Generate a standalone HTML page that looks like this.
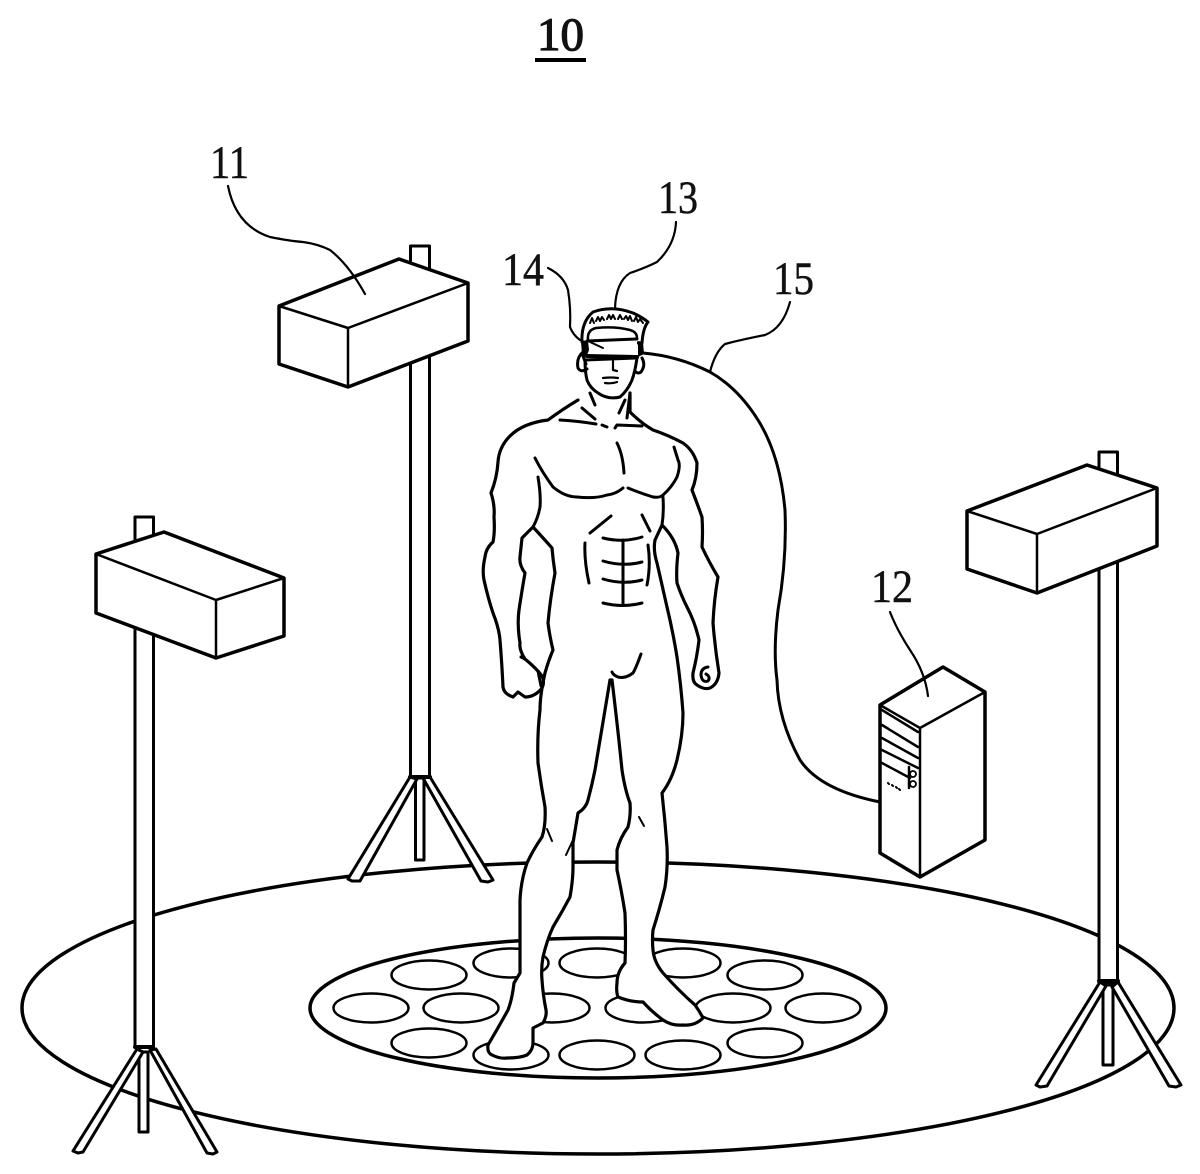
<!DOCTYPE html>
<html>
<head>
<meta charset="utf-8">
<style>
html,body{margin:0;padding:0;background:#fff;}
svg{display:block;}
text{font-family:"Liberation Serif",serif;fill:#111;font-size:47px;stroke:#111;stroke-width:.5px;}
.s{fill:none;stroke:#000;stroke-linecap:round;stroke-linejoin:round;}
.w{fill:#fff;stroke:#000;stroke-linecap:round;stroke-linejoin:round;}
</style>
</head>
<body>
<svg xmlns="http://www.w3.org/2000/svg" width="1200" height="1174" viewBox="0 0 1200 1174">
<rect width="1200" height="1174" fill="#fff"/>

<!-- labels -->
<text x="537" y="50" textLength="47" lengthAdjust="spacingAndGlyphs" style="stroke-width:1.200px">10</text>
<rect x="535" y="58" width="51" height="4" fill="#000"/>
<text x="210" y="178" textLength="39" lengthAdjust="spacingAndGlyphs">11</text>
<text x="658" y="213" textLength="40" lengthAdjust="spacingAndGlyphs">13</text>
<text x="502" y="285" textLength="42" lengthAdjust="spacingAndGlyphs">14</text>
<text x="773" y="294" textLength="41" lengthAdjust="spacingAndGlyphs">15</text>
<text x="871" y="602" textLength="42" lengthAdjust="spacingAndGlyphs">12</text>

<!-- floor -->
<ellipse class="s" cx="598" cy="1008" rx="576" ry="146" stroke-width="3.5"/>
<ellipse class="s" cx="598" cy="1008" rx="288" ry="70" stroke-width="3.5"/>
<g class="s" stroke-width="2.5">
<ellipse cx="511" cy="963" rx="37.5" ry="14.5"/>
<ellipse cx="597" cy="963" rx="37.5" ry="14.5"/>
<ellipse cx="683" cy="963" rx="37.5" ry="14.5"/>
<ellipse cx="429" cy="975" rx="37.5" ry="14.5"/>
<ellipse cx="765" cy="975" rx="37.5" ry="14.5"/>
<ellipse cx="371" cy="1008" rx="37.5" ry="14.5"/>
<ellipse cx="461" cy="1008" rx="37.5" ry="14.5"/>
<ellipse cx="552" cy="1008" rx="37.5" ry="14.5"/>
<ellipse cx="643" cy="1008" rx="37.5" ry="14.5"/>
<ellipse cx="733" cy="1008" rx="37.5" ry="14.5"/>
<ellipse cx="823" cy="1008" rx="37.5" ry="14.5"/>
<ellipse cx="429" cy="1043" rx="37.5" ry="14.5"/>
<ellipse cx="765" cy="1043" rx="37.5" ry="14.5"/>
<ellipse cx="511" cy="1055" rx="37.5" ry="14.5"/>
<ellipse cx="597" cy="1055" rx="37.5" ry="14.5"/>
<ellipse cx="683" cy="1055" rx="37.5" ry="14.5"/>
</g>

<!-- middle stand -->
<g class="w" stroke-width="3">
<rect x="410.500" y="246" width="19" height="531"/>
<path d="M415.500 778 L415.500 860 L424 860 L424 778 Z"/>
<path d="M410 777 L348 879 L352 881 L360 881 L417 779 Z"/>
<path d="M423 778 L481 881 L488 882 L493 880 L430 777 Z"/>
<path d="M410 777 L430 777" stroke-width="4"/>
</g>
<path class="w" stroke-width="3.500" d="M279 306 L399 259 L468 283 L468 341 L348 387 L279 364 Z"/>
<path class="s" stroke-width="2.500" d="M279 306 L348 328 L468 283 M348 328 L348 387"/>

<!-- left stand -->
<g class="w" stroke-width="3">
<rect x="135" y="517" width="18.500" height="530"/>
<path d="M139 1052 L139 1132 L148 1132 L148 1052 Z"/>
<path d="M137 1049 L73 1151 L78 1153 L83 1152 L143 1052 Z"/>
<path d="M150 1050 L207 1153 L213 1154 L217 1152 L156 1049 Z"/>
<path d="M135 1047 L153 1047" stroke-width="4"/>
</g>
<path class="w" stroke-width="3.500" d="M96 554 L164 532 L284 578 L284 636 L216 658 L96 613 Z"/>
<path class="s" stroke-width="2.500" d="M96 554 L216 600 L284 578 M216 600 L216 658"/>

<!-- right stand -->
<g class="w" stroke-width="3">
<rect x="1099" y="452" width="18.500" height="530"/>
<path d="M1103 985 L1103 1065 L1113 1065 L1113 985 Z"/>
<path d="M1100 982 L1036 1085 L1040 1087 L1047 1086 L1106 986 Z"/>
<path d="M1112 987 L1169 1086 L1176 1087 L1181 1085 L1118 982 Z"/>
<path d="M1099 981 L1118 981" stroke-width="4"/>
</g>
<path class="w" stroke-width="3.500" d="M967 511 L1087 465 L1157 488 L1157 546 L1037 593 L967 569 Z"/>
<path class="s" stroke-width="2.500" d="M967 511 L1037 534 L1157 488 M1037 534 L1037 593"/>

<!-- cable -->
<path class="s" stroke-width="3" d="M643 353 Q678 356 710 372 Q738 388 758 420 Q780 455 785 510 Q787 560 778 610 Q773 650 777 680 Q778 720 800 760 Q820 790 880 802"/>

<!-- tower -->
<path class="w" stroke-width="3.500" d="M880 705 L943 667 L985 692 L985 840 L920 877 L880 853 Z"/>
<path class="s" stroke-width="2.500" d="M880 705 L920 728 L985 692 M920 728 L920 877 M882 710 L918 732 M882 725 L918 747 M882 738 L918 758 M882 750 L918 768 M882 763 L910 778 M909 767 L909 788"/>
<circle class="s" stroke-width="1.800" cx="913" cy="774" r="3"/>
<circle class="s" stroke-width="1.800" cx="913" cy="784" r="3"/>
<path class="s" stroke-width="2" d="M888 783 L889 784 M892 785 L893 786 M896 787 L897 788 M899 789 L900 790"/>

<!-- body -->
<path class="w" stroke-width="3.200" d="M578 400 Q563 409 548 420 Q523 423 510 436 Q499 447 498 462 Q497 478 491 493 Q495 505 494 517 Q495 532 493 542 Q486 548 485 557 Q482 570 484 580 Q488 598 493 613 Q499 628 500 640 Q502 665 503 687 Q504 694 513 697 L518 692 L525 697 Q535 697 542 688 Q545 682 542 676 Q536 668 525 659 Q519 650 520 643 Q517 625 519 610 Q522 590 525 573 Q519 565 520 557 L522 538 L533 527 Q545 540 552 548 Q553 560 555 573 Q550 600 548 623 Q550 638 553 650 Q548 662 545 673 Q540 695 540 710 Q537 735 538 763 Q541 785 545 807 Q546 825 542 837 Q533 850 527 863 Q521 880 520 900 Q520 940 520 973 L514 983 Q512 1000 508 1010 Q498 1028 488 1045 Q487 1053 492 1055 Q500 1059 507 1058 Q520 1058 527 1055 Q533 1050 533 1043 L533 1028 L543 1023 Q547 1016 546 1010 Q543 995 542 980 Q541 968 543 957 Q547 940 553 927 Q562 912 570 897 Q573 880 573 867 L573 843 L578 813 Q586 808 588 800 Q592 785 595 770 L610 680 L612 680 Q618 730 622 770 Q625 790 630 803 Q631 815 628 827 Q620 838 617 850 L617 870 Q622 893 625 913 Q626 940 625 963 Q617 972 617 983 Q616 992 618 997 Q630 1002 643 1002 Q652 1012 663 1020 Q672 1026 683 1025 Q695 1026 703 1018 Q700 1012 695 1005 Q678 990 663 973 Q654 962 653 950 Q652 940 653 930 Q660 908 665 887 Q668 868 667 847 Q665 820 662 793 Q672 780 677 760 Q683 735 683 713 Q681 685 677 657 Q673 632 667 607 L657 563 Q653 550 655 540 L662 525 Q675 538 678 553 Q676 570 677 583 Q681 595 687 607 Q695 622 699 640 Q697 657 693 673 Q692 682 697 685 Q704 690 710 688 Q718 684 719 673 Q715 648 713 623 Q714 600 718 577 Q709 562 702 547 Q703 532 702 517 Q697 503 692 490 Q697 478 697 463 Q693 450 683 443 Q668 435 653 430 Q641 423 630 412 L630 393"/>

<!-- body details -->
<g class="s" stroke-width="3">
<path d="M535 458 Q542 472 553 487 Q565 497 577 497 Q595 499 607 495 Q616 494 623 488"/>
<path d="M628 488 Q640 493 653 497 Q660 498 663 495 Q672 487 677 477 Q681 465 678 460 L674 447"/>
<path d="M538 477 Q541 495 540 507 Q538 518 533 527"/>
<path d="M663 497 Q664 512 662 525"/>
<path d="M617 443 Q623 455 624 473"/>
<path d="M560 420 Q578 421 596 424 M602 425 L607 427 M615 428 L617 425 L642 426"/>
<path d="M582 408 L595 419 M590 393 L595 405 M625 400 L619 413 M627 418 L630 393"/>
<path d="M590 533 L611 516 M642 515 L650 531"/>
<path d="M585 543 Q584 560 589 583 M648 545 Q651 565 647 585"/>
<path d="M603 538 Q623 543 642 537 M603 561 Q623 567 642 562 M603 579 Q623 585 642 580 M603 603 Q623 608 642 603 M623 540 L623 605"/>
<path d="M641 654 Q636 668 633 673 Q625 679 618 677 Q613 675 612 672"/>
<path d="M525 659 L521 657"/>
<path d="M538 671 L541 686"/>
<path d="M708 667 Q701 668 701 675 Q702 683 708 681 Q711 677 706 674"/>
</g>
<path class="s" stroke-width="2" d="M578 815 L573 840 L566 855 M547 829 L552 841 M639 817 L644 826"/>

<!-- head -->
<path class="w" stroke-width="3" d="M585 360 Q585 372 587 380 Q590 388 598 393 Q608 400 620 397 Q628 390 632 380 Q635 372 637 358 Z"/>
<path class="w" stroke-width="3" d="M582 342 Q581 322 593 312 Q612 305 633 313 Q642 317 648 322 Q643 328 642 343 Z"/>
<path class="s" stroke-width="2.500" d="M588 340 Q587 330 596 328 Q615 326 630 330 Q637 332 637 338"/>
<path class="s" stroke-width="2" d="M590 323 L592 318 L594 323 M596 321 L598 317 L600 321 L602 317 L604 320 M607 319 L609 315 L611 319 L613 315 L615 319 M618 319 L620 315 L622 319 M624 319 L626 316 L628 320 L630 316 L632 321 M634 321 L636 317 L638 322 L640 319 L643 323"/>
<path d="M587 341 L637 339 L637 357 L587 356 Z" fill="#fff"/>
<path class="s" stroke-width="3" d="M587 341 L637 339"/>
<path class="s" stroke-width="4" d="M587 356 L637 357"/>
<path d="M581 342 L588 341 L589 350 L586 358 L582 354 Z M638 341 L643 342 L644 354 L638 357 Z" fill="#000"/>
<path class="s" stroke-width="3" d="M583 352 Q576 358 578 368 Q581 373 587 369 M583 356 L586 364 M642 358 Q646 365 641 372 Q638 374 636 372"/>
<path class="s" stroke-width="2" d="M590 342 L603 348"/>
<path class="s" stroke-width="2.200" d="M613 361 L613 370 L617 371 M603 378 Q611 377 618 378 M605 383 Q612 384 617 382"/>

<!-- leader lines -->
<g class="s" stroke-width="2.200">
<path d="M228 186 Q236 226 270 237 Q290 241 303 242 Q318 244 330 250 Q349 265 365 294"/>
<path d="M676 222 Q675 245 657 262 Q645 268 630 273 Q616 282 615 308"/>
<path d="M548 268 Q564 276 568 290 Q571 308 570 327 Q573 335 580 340"/>
<path d="M790 302 Q783 328 765 335 Q740 340 725 344 Q715 352 710 372"/>
<path d="M890 612 Q897 630 910 650 Q925 672 928 696"/>
</g>
</svg>
</body>
</html>
